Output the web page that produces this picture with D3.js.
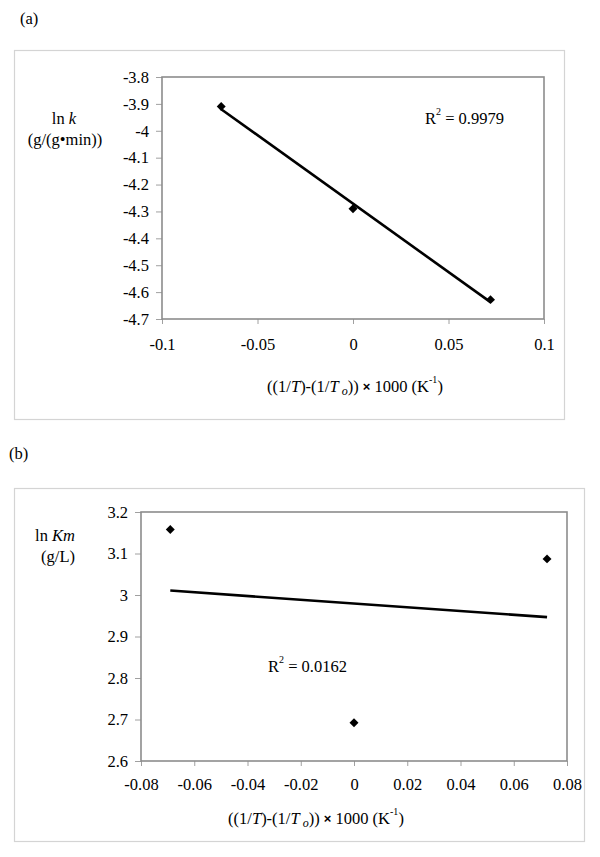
<!DOCTYPE html>
<html>
<head>
<meta charset="utf-8">
<script src="https://cdn.jsdelivr.net/npm/d3@7"></script>
<style>
	body { margin: 0; background: white; }
	svg text { font-family: "Liberation Serif", "Times New Roman", serif; font-size: 16.5px; fill: #000; }
</style>
</head>
<body>
<svg id="chart" width="600" height="857"></svg>
<script>
// panel (a): ln k
var kX = [-0.069, 0, 0.072];
var kY = [-3.91, -4.29, -4.628];
var kXTicks = [-0.1, -0.05, 0, 0.05, 0.1];
var kXTickLabels = ["-0.1", "-0.05", "0", "0.05", "0.1"];
var kYTicks = [-3.8, -3.9, -4, -4.1, -4.2, -4.3, -4.4, -4.5, -4.6, -4.7];
var kYTickLabels = ["-3.8", "-3.9", "-4", "-4.1", "-4.2", "-4.3", "-4.4", "-4.5", "-4.6", "-4.7"];
var kR2 = "0.9979";

// panel (b): ln Km
var kmX = [-0.069, 0, 0.0725];
var kmY = [3.158, 2.692, 3.087];
var kmXTicks = [-0.08, -0.06, -0.04, -0.02, 0, 0.02, 0.04, 0.06, 0.08];
var kmXTickLabels = ["-0.08", "-0.06", "-0.04", "-0.02", "0", "0.02", "0.04", "0.06", "0.08"];
var kmYTicks = [3.2, 3.1, 3, 2.9, 2.8, 2.7, 2.6];
var kmYTickLabels = ["3.2", "3.1", "3", "2.9", "2.8", "2.7", "2.6"];
var kmR2 = "0.0162";

var svg = d3.select("#chart");

// least squares line over the points' x range
function fitLine(xs, ys) {
	var mx = d3.mean(xs), my = d3.mean(ys);
	var sxy = d3.sum(xs, function(x, i) { return (x - mx) * (ys[i] - my); });
	var sxx = d3.sum(xs, function(x) { return (x - mx) * (x - mx); });
	var slope = sxy / sxx;
	var x0 = d3.min(xs), x1 = d3.max(xs);
	return [[x0, my + slope * (x0 - mx)], [x1, my + slope * (x1 - mx)]];
}

function drawXTitle(g, cx, cy) {
	var t = g.append("text")
		.attr("x", cx)
		.attr("y", cy)
		.style("text-anchor", "middle")
		.style("dominant-baseline", "middle");
	t.append("tspan").text("((1/");
	t.append("tspan").style("font-style", "italic").text("T");
	t.append("tspan").text(")-(1/");
	t.append("tspan").style("font-style", "italic").text("T");
	t.append("tspan").style("font-style", "italic").style("font-size", "12px").attr("dx", 3).attr("dy", 4).text("o");
	t.append("tspan").attr("dy", -4).text(")) ");
	t.append("tspan").style("font-family", "'Liberation Sans', Arial, sans-serif").style("font-weight", "bold").style("font-size", "13px").text("\u00d7");
	t.append("tspan").text(" 1000 (K");
	t.append("tspan").style("font-size", "10px").attr("dy", -7).text("-1");
	t.append("tspan").attr("dy", 7).text(")");
}

function drawPanel(p) {
	var g = svg.append("g");

	g.append("text")
		.attr("x", p.label.x)
		.attr("y", p.label.y)
		.style("dominant-baseline", "middle")
		.text(p.label.text);

	// outer frame
	g.append("rect")
		.attr("x", p.frame.x)
		.attr("y", p.frame.y)
		.attr("width", p.frame.w)
		.attr("height", p.frame.h)
		.style("fill", "none")
		.style("stroke", "#d4d4d4")
		.style("stroke-width", 1.2);

	var x = d3.scaleLinear().domain(p.xDomain).range([p.plot.l, p.plot.r]);
	var y = d3.scaleLinear().domain(p.yDomain).range([p.plot.b, p.plot.t]);

	// axes
	var xAxis = g.append("g")
		.attr("transform", "translate(0," + p.plot.b + ")")
		.call(d3.axisBottom(x).tickValues(p.xTicks).tickSize(5).tickPadding(p.xPad)
			.tickFormat(function(d, i) { return p.xTickLabels[i]; }));
	var yAxis = g.append("g")
		.attr("transform", "translate(" + p.plot.l + ",0)")
		.call(d3.axisLeft(y).tickValues(p.yTicks).tickSize(6).tickPadding(7)
			.tickFormat(function(d, i) { return p.yTickLabels[i]; }));
	[xAxis, yAxis].forEach(function(a) {
		a.select(".domain").remove();
		a.selectAll(".tick line").style("stroke", "#a0a0a0");
		a.selectAll(".tick text").style("font-size", "16.5px").attr("font-family", null);
	});

	// plot frame
	g.append("rect")
		.attr("x", p.plot.l)
		.attr("y", p.plot.t)
		.attr("width", p.plot.r - p.plot.l)
		.attr("height", p.plot.b - p.plot.t)
		.style("fill", "none")
		.style("stroke", "#8c8c8c")
		.style("stroke-width", 1.6);

	// trendline
	var fit = fitLine(p.xs, p.ys);
	g.append("path")
		.attr("d", d3.line().x(function(d) { return x(d[0]); }).y(function(d) { return y(d[1]); })(fit))
		.style("fill", "none")
		.style("stroke", "#000")
		.style("stroke-width", 2.6);

	// diamonds
	g.selectAll(".pt")
		.data(p.xs)
		.enter()
		.append("path")
		.attr("class", "pt")
		.attr("d", d3.symbol(d3.symbolSquare, 40))
		.attr("transform", function(d, i) {
			return "translate(" + x(d) + "," + y(p.ys[i]) + ") rotate(45)";
		})
		.style("fill", "#000");

	// y title
	var yt = g.append("text")
		.attr("x", p.yTitle.x)
		.attr("y", p.yTitle.y1)
		.style("text-anchor", "middle")
		.style("dominant-baseline", "middle");
	yt.append("tspan").text("ln ");
	yt.append("tspan").style("font-style", "italic").text(p.yTitle.sym);
	g.append("text")
		.attr("x", p.yTitle.x2)
		.attr("y", p.yTitle.y2)
		.style("text-anchor", "middle")
		.style("dominant-baseline", "middle")
		.text(p.yTitle.unit);

	// R squared
	var r = g.append("text")
		.attr("x", p.r2.x)
		.attr("y", p.r2.y)
		.style("dominant-baseline", "middle");
	r.append("tspan").text("R");
	r.append("tspan").style("font-size", "10px").attr("dy", -7).text("2");
	r.append("tspan").attr("dy", 7).text(" = " + p.r2.text);

	drawXTitle(g, p.xTitle.x, p.xTitle.y);
}

drawPanel({
	label: { text: "(a)", x: 20, y: 20 },
	frame: { x: 14.5, y: 50.5, w: 550, h: 369 },
	plot: { l: 162, t: 77, r: 544, b: 319 },
	xDomain: [-0.1, 0.1], yDomain: [-4.7, -3.8],
	xTicks: kXTicks, xTickLabels: kXTickLabels, xPad: 14,
	yTicks: kYTicks, yTickLabels: kYTickLabels,
	xs: kX, ys: kY,
	yTitle: { sym: "k", unit: "(g/(g\u2022min))", x: 64, y1: 120, x2: 65, y2: 141 },
	r2: { text: kR2, x: 425, y: 120 },
	xTitle: { x: 355, y: 388 }
});

drawPanel({
	label: { text: "(b)", x: 9, y: 455 },
	frame: { x: 14.5, y: 488.5, w: 570, h: 353 },
	plot: { l: 141, t: 512, r: 567, b: 761 },
	xDomain: [-0.08, 0.08], yDomain: [2.6, 3.2],
	xTicks: kmXTicks, xTickLabels: kmXTickLabels, xPad: 12,
	yTicks: kmYTicks, yTickLabels: kmYTickLabels,
	xs: kmX, ys: kmY,
	yTitle: { sym: "Km", unit: "(g/L)", x: 55, y1: 537, x2: 58, y2: 558 },
	r2: { text: kmR2, x: 268, y: 668 },
	xTitle: { x: 316, y: 820 }
});
</script>
</body>
</html>
